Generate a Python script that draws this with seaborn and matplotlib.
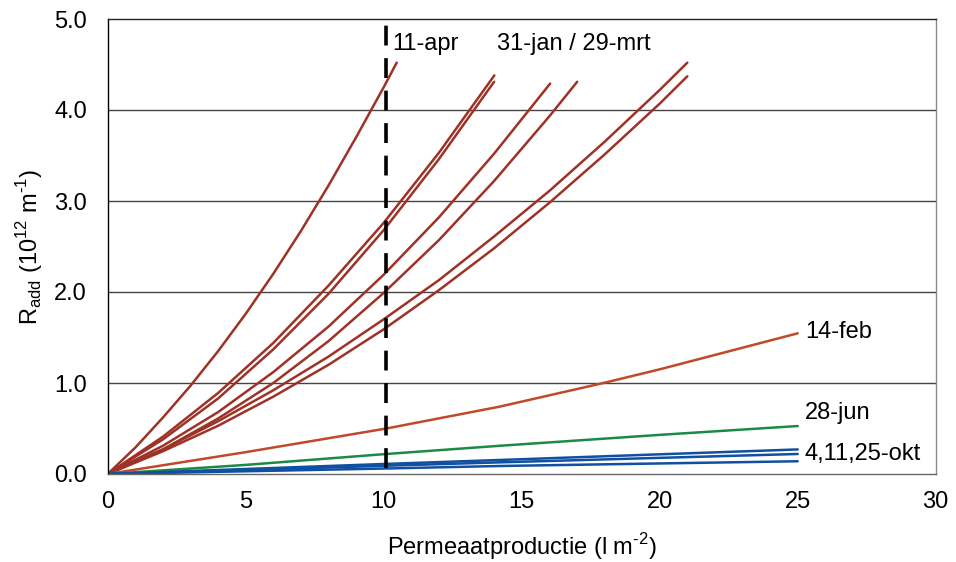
import matplotlib
matplotlib.use("Agg")
import matplotlib.pyplot as plt
import seaborn as sns
import pandas as pd

# ---- data ----
apr11_x = [0, 1, 2, 3, 4, 5, 6, 7, 8, 9, 10, 10.47]
apr11_y = [0, 0.29, 0.62, 0.97, 1.35, 1.76, 2.20, 2.67, 3.17, 3.70, 4.25, 4.52]
b1_x = [0, 2, 4, 6, 8, 10, 12, 14.01]
b1_y = [0, 0.41, 0.89, 1.44, 2.07, 2.76, 3.53, 4.38]
b2_x = [0, 2, 4, 6, 8, 10, 12, 14.0]
b2_y = [0, 0.38, 0.83, 1.37, 1.98, 2.68, 3.46, 4.31]
c_x = [0, 2, 4, 6, 8, 10, 12, 14, 16.03]
c_y = [0, 0.31, 0.68, 1.12, 1.62, 2.19, 2.82, 3.52, 4.29]
d_x = [0, 2, 4, 6, 8, 10, 12, 14, 16, 17.01]
d_y = [0, 0.27, 0.61, 1.0, 1.46, 1.99, 2.57, 3.22, 3.93, 4.31]
e_x = [0, 2, 4, 6, 8, 10, 12, 14, 16, 18, 20, 21.0]
e_y = [0, 0.27, 0.58, 0.92, 1.29, 1.70, 2.13, 2.61, 3.11, 3.65, 4.22, 4.52]
f_x = [0, 2, 4, 6, 8, 10, 12, 14, 16, 18, 20, 21.0]
f_y = [0, 0.25, 0.53, 0.85, 1.20, 1.59, 2.02, 2.48, 2.98, 3.51, 4.07, 4.37]
feb14_x = [0, 5, 10.1, 14.2, 17.96, 20, 25]
feb14_y = [0, 0.24, 0.5, 0.74, 1.0, 1.15, 1.546]
jun28_x = [0, 5, 10.1, 14.2, 20, 25]
jun28_y = [0, 0.1, 0.22, 0.31, 0.43, 0.527]
okt_a_x = [0, 10, 14.2, 25]
okt_a_y = [0, 0.11, 0.154, 0.27]
okt_b_x = [0, 10, 14.2, 25]
okt_b_y = [0, 0.09, 0.128, 0.22]
okt_c_x = [0, 10, 14.2, 25]
okt_c_y = [0, 0.06, 0.088, 0.14]

dashed_x = 10.1

x_ticks = [0, 5, 10, 15, 20, 25, 30]
y_ticks = [0.0, 1.0, 2.0, 3.0, 4.0, 5.0]

labels = ["11-apr", "31-jan / 29-mrt", "14-feb", "28-jun", "4,11,25-okt"]

series = {
    "apr11": (apr11_x, apr11_y), "b1": (b1_x, b1_y), "b2": (b2_x, b2_y),
    "c": (c_x, c_y), "d": (d_x, d_y), "e": (e_x, e_y), "f": (f_x, f_y),
    "feb14": (feb14_x, feb14_y), "jun28": (jun28_x, jun28_y),
    "okt_a": (okt_a_x, okt_a_y), "okt_b": (okt_b_x, okt_b_y), "okt_c": (okt_c_x, okt_c_y),
}
rows = []
for name, (xs, ys) in series.items():
    for xv, yv in zip(xs, ys):
        rows.append({"serie": name, "x": xv, "y": yv})
df = pd.DataFrame(rows)

red = "#9E3226"
palette = {"apr11": red, "b1": red, "b2": red, "c": red, "d": red, "e": red, "f": red,
           "feb14": "#C2482A", "jun28": "#1B8A47",
           "okt_a": "#1050A0", "okt_b": "#1050A0", "okt_c": "#1050A0"}

sns.set_theme(style="white")
plt.rcParams["font.family"] = ["Liberation Sans", "DejaVu Sans"]

FS = 17

fig = plt.figure(figsize=(9.56, 5.62), dpi=100)
ax = fig.add_axes([107.7 / 956, 88 / 562, 828 / 956, 455 / 562])

sns.lineplot(data=df, x="x", y="y", hue="serie", palette=palette, units="serie",
             estimator=None, sort=False, lw=1.8, legend=False, ax=ax)

ax.axvline(dashed_x, ymin=0.014, ymax=1, color="black", lw=2.6, dashes=(5.5, 3.5))

ax.set_xlim(0, 30)
ax.set_ylim(0, 5)
ax.set_xticks(x_ticks)
ax.set_xticklabels([str(v) for v in x_ticks])
ax.set_yticks(y_ticks)
ax.set_yticklabels([f"{v:.1f}" for v in y_ticks])

for yv in y_ticks[1:-1]:
    ax.axhline(yv, color="#444444", lw=1.0, zorder=0)

ax.spines["left"].set_color("black")
ax.spines["top"].set_color("#222222")
ax.spines["right"].set_color("#888888")
ax.spines["bottom"].set_color("#666666")
for s in ax.spines.values():
    s.set_linewidth(1.0)

ax.tick_params(axis="both", which="major", labelsize=FS, direction="out",
               length=6, width=1, colors="black", labelcolor="black")
ax.tick_params(axis="y", pad=9)
ax.tick_params(axis="x", pad=6, color="#666666")

ax.set_xlabel("Permeaatproductie (l m$^{\\mathregular{\u20102}}$)", fontsize=FS, color="black")
ax.set_ylabel("R$_{\\mathregular{add}}$ (10$^{\\mathregular{12}}$ m$^{\\mathregular{\u20101}}$)",
              fontsize=FS, color="black")
ax.xaxis.set_label_coords(0.5, -0.126)
ax.yaxis.set_label_coords(-0.094, 0.5)
ax.xaxis.label.set_va("top")
ax.yaxis.label.set_va("center")

# text annotations (data coordinates)
txt = dict(fontsize=FS, color="black", ha="left", va="center")
ax.text(10.3, 4.72, labels[0], **txt)
ax.text(14.1, 4.72, labels[1], **txt)
ax.text(25.26, 1.56, labels[2], **txt)
ax.text(25.26, 0.67, labels[3], **txt)
ax.text(25.26, 0.22, labels[4], **txt)

fig.savefig("out.png", dpi=100)
